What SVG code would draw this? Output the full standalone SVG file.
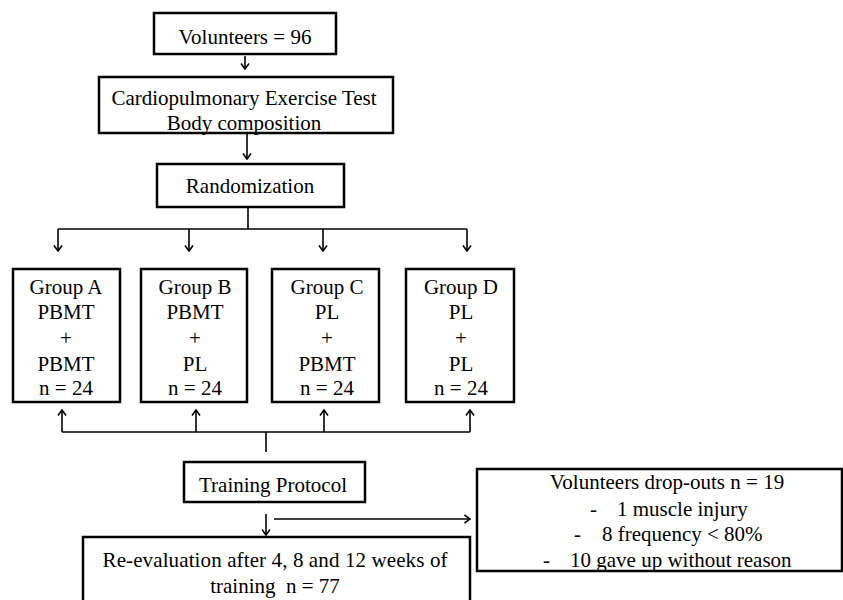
<svg xmlns="http://www.w3.org/2000/svg" width="843" height="600" viewBox="0 0 843 600">
<style>
.box{fill:#fff;stroke:#000;stroke-width:2.5}
.t{font-family:'Liberation Serif','DejaVu Serif',serif;font-size:21px;fill:#000;text-anchor:middle}
.ts{font-family:'Liberation Serif','DejaVu Serif',serif;font-size:21px;fill:#000}
.ln{fill:none;stroke:#000;stroke-width:1.6}
</style>
<defs>
<marker id="ah" viewBox="0 0 10 10" refX="9" refY="5" markerWidth="10" markerHeight="10" markerUnits="userSpaceOnUse" orient="auto">
<path d="M3.5,1 L9,5 L3.5,9" fill="none" stroke="#000" stroke-width="1.6"/>
</marker>
</defs>
<rect width="843" height="600" fill="#fff"/>
<g id="connectors">
<line class="ln" x1="245" y1="56" x2="245" y2="69" marker-end="url(#ah)"/>
<line class="ln" x1="247" y1="134" x2="247" y2="159" marker-end="url(#ah)"/>
<line class="ln" x1="248" y1="208" x2="248" y2="229"/>
<line class="ln" x1="58" y1="229" x2="467" y2="229"/>
<line class="ln" x1="58" y1="229" x2="58" y2="251" marker-end="url(#ah)"/>
<line class="ln" x1="189" y1="229" x2="189" y2="251" marker-end="url(#ah)"/>
<line class="ln" x1="323" y1="229" x2="323" y2="251" marker-end="url(#ah)"/>
<line class="ln" x1="467" y1="229" x2="467" y2="251" marker-end="url(#ah)"/>
<line class="ln" x1="62" y1="432" x2="470" y2="432"/>
<line class="ln" x1="62" y1="432" x2="62" y2="410" marker-end="url(#ah)"/>
<line class="ln" x1="196" y1="432" x2="196" y2="410" marker-end="url(#ah)"/>
<line class="ln" x1="324" y1="432" x2="324" y2="410" marker-end="url(#ah)"/>
<line class="ln" x1="470" y1="432" x2="470" y2="410" marker-end="url(#ah)"/>
<line class="ln" x1="266" y1="432" x2="266" y2="452"/>
<line class="ln" x1="266" y1="514" x2="266" y2="535" marker-end="url(#ah)"/>
<line class="ln" x1="274" y1="519" x2="470" y2="519" marker-end="url(#ah)"/>
</g>
<g id="volunteers">
<rect class="box" x="154" y="13" width="182" height="41"/>
<text class="t" x="245" y="44">Volunteers = 96</text>
</g>
<g id="cpet">
<rect class="box" x="99" y="77" width="294" height="56"/>
<text class="t" x="244" y="105">Cardiopulmonary Exercise Test</text>
<text class="t" x="244" y="130">Body composition</text>
</g>
<g id="randomization">
<rect class="box" x="157" y="164" width="187" height="43"/>
<text class="t" x="250" y="193">Randomization</text>
</g>
<g id="groupA">
<rect class="box" x="13" y="269" width="107" height="133"/>
<text class="t" x="66" y="294">Group A</text>
<text class="t" x="66" y="319">PBMT</text>
<text class="t" x="66" y="345">+</text>
<text class="t" x="66" y="371">PBMT</text>
<text class="t" x="66" y="395">n = 24</text>
</g>
<g id="groupB">
<rect class="box" x="141" y="269" width="106" height="133"/>
<text class="t" x="195" y="294">Group B</text>
<text class="t" x="195" y="319">PBMT</text>
<text class="t" x="195" y="345">+</text>
<text class="t" x="195" y="371">PL</text>
<text class="t" x="195" y="395">n = 24</text>
</g>
<g id="groupC">
<rect class="box" x="272" y="269" width="107" height="133"/>
<text class="t" x="327" y="294">Group C</text>
<text class="t" x="327" y="319">PL</text>
<text class="t" x="327" y="345">+</text>
<text class="t" x="327" y="371">PBMT</text>
<text class="t" x="327" y="395">n = 24</text>
</g>
<g id="groupD">
<rect class="box" x="406" y="269" width="108" height="133"/>
<text class="t" x="461" y="294">Group D</text>
<text class="t" x="461" y="319">PL</text>
<text class="t" x="461" y="345">+</text>
<text class="t" x="461" y="371">PL</text>
<text class="t" x="461" y="395">n = 24</text>
</g>
<g id="training">
<rect class="box" x="184" y="462" width="181" height="40"/>
<text class="t" x="273" y="492">Training&#160;Protocol</text>
</g>
<g id="reevaluation">
<rect class="box" x="83" y="537" width="387" height="70"/>
<text class="t" x="275" y="567" textLength="345">Re-evaluation after 4, 8 and 12 weeks of</text>
<text class="t" x="275" y="593">training&#160;&#160;n = 77</text>
</g>
<g id="dropouts">
<rect class="box" x="477" y="469" width="365" height="102"/>
<text class="t" x="667" y="489">Volunteers drop-outs n = 19</text>
<text class="ts" x="590" y="516">-</text>
<text class="ts" x="617" y="516">1 muscle injury</text>
<text class="ts" x="574" y="541">-</text>
<text class="ts" x="602" y="541">8 frequency &lt; 80%</text>
<text class="ts" x="543" y="567">-</text>
<text class="ts" x="570" y="567">10 gave up without reason</text>
</g>
</svg>
